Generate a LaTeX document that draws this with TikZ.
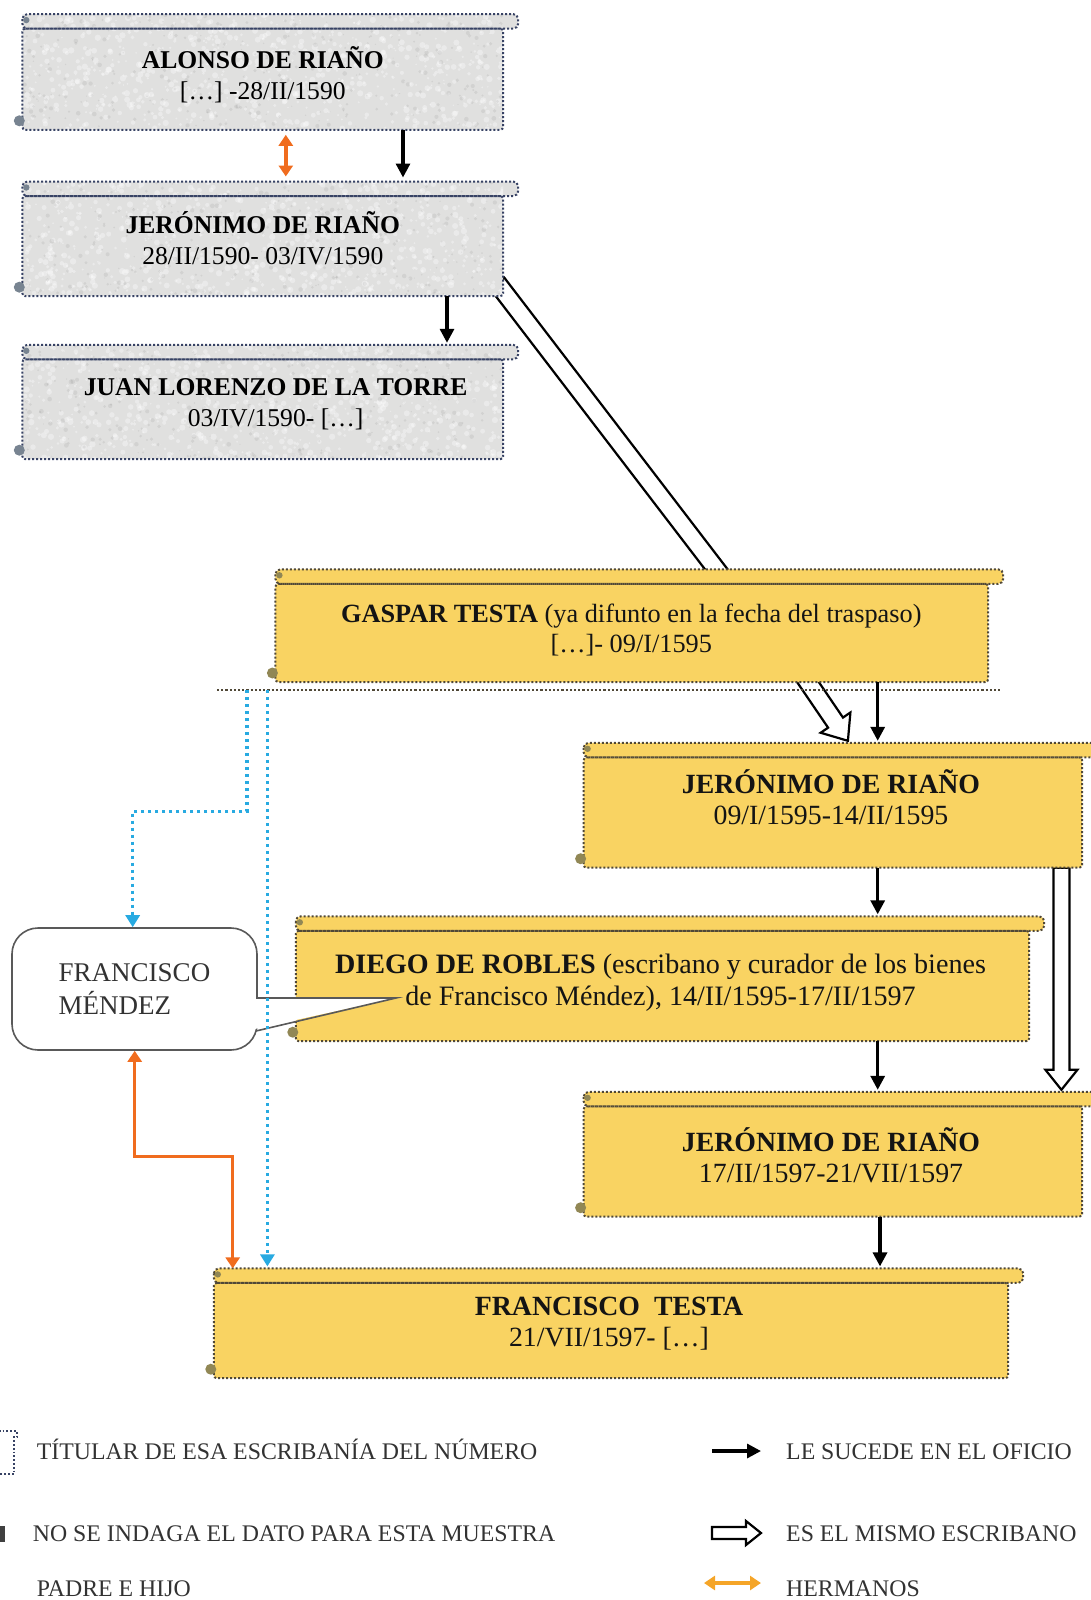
\documentclass[tikz,border=0pt]{standalone}
\usepackage{fontspec}
\setmainfont{Liberation Serif}
\usetikzlibrary{arrows.meta,calc}
\pgfdeclarelayer{deep}
\pgfdeclarelayer{background}
\pgfsetlayers{deep,background,main}
\definecolor{ygold}{RGB}{249,211,98}
\definecolor{ggray}{RGB}{224,224,223}
\definecolor{bslate}{RGB}{55,66,100}
\definecolor{bbrown}{RGB}{80,72,55}
\definecolor{blobg}{RGB}{120,132,145}
\definecolor{bloby}{RGB}{145,135,85}
\definecolor{orR}{RGB}{240,108,30}
\definecolor{orL}{RGB}{245,165,40}
\definecolor{cyanB}{RGB}{40,170,225}
\definecolor{txtg}{RGB}{50,50,50}

% #1 node, #2 fill, #3 border colour, #4 blob colour, #5 texture (1/0)
\newcommand\scrolldeco[5]{%
 \begin{pgfonlayer}{background}
  \fill[#2, rounded corners=3pt]
    ([yshift=-14.5pt]#1.north west) -- ([yshift=-14.5pt]#1.north east) -- (#1.south east) -- (#1.south west) -- cycle;
  \fill[#2, rounded corners=5pt]
    (#1.north west) rectangle ([xshift=15pt,yshift=-14.5pt]#1.north east);
  \ifnum#5=1
   \begin{scope}
    \clip (#1.north west) rectangle (#1.south east);
    \foreach \k in {1,...,900}{
      \fill[white, opacity=0.35] ($(#1.north west)+(rnd*500, rnd*118)$) circle[radius={0.8pt+rnd*2.4pt}];
    }
    \foreach \k in {1,...,350}{
      \fill[black, opacity=0.06] ($(#1.north west)+(rnd*500, rnd*118)$) circle[radius={0.6pt+rnd*1.8pt}];
    }
   \end{scope}
  \fi
  \draw[#3, dotted, line width=2pt, rounded corners=3pt]
    ([yshift=-14.5pt]#1.north west) -- ([yshift=-14.5pt]#1.north east) -- (#1.south east) -- (#1.south west) -- cycle;
  \draw[#3, dotted, line width=2pt, rounded corners=5pt]
    (#1.north west) rectangle ([xshift=15pt,yshift=-14.5pt]#1.north east);
  \fill[#4] ([xshift=4pt,yshift=-6pt]#1.north west) circle (3.2pt);
  \fill[#4] ([xshift=-3pt,yshift=9pt]#1.south west) circle (5.5pt);
 \end{pgfonlayer}}

% #1 start, #2 tip, #3 half shaft, #4 half head, #5 head length
\newcommand\hollowarrow[5]{%
  \coordinate (HAc) at ($(#2)!#5!(#1)$);
  \draw[line width=2.2pt, fill=white, line join=miter]
    ($(#1)!#3!90:(#2)$) -- ($(HAc)!#3!90:(#2)$) -- ($(HAc)!#4!90:(#2)$) -- (#2)
    -- ($(HAc)!#4!-90:(#2)$) -- ($(HAc)!#3!-90:(#2)$) -- ($(#1)!#3!-90:(#2)$) -- cycle;}

\tikzset{
  scrollnode/.style={inner sep=0pt},
  stxtA/.style={inner sep=0pt, align=center, text=black, font=\fontsize{25.6}{31}\selectfont},
  stxtB/.style={inner sep=0pt, align=center, text=black!92, font=\fontsize{26.3}{30}\selectfont},
  stxtC/.style={inner sep=0pt, align=center, text=black!92, font=\fontsize{27.8}{31.5}\selectfont},
  succ/.style={-{Triangle[length=14pt,width=14pt]}, line width=3.2pt, black},
  herm/.style={{Triangle[length=11pt,width=14pt]}-{Triangle[length=11pt,width=14pt]}, line width=3.4pt, orR},
  bluearr/.style={dash pattern=on 3.4pt off 3.6pt, line width=3.4pt, cyanB, -{Triangle[length=12pt,width=14pt]}},
  legtext/.style={inner sep=0pt, text height=0.66em, text depth=0pt, font=\fontsize{23.8}{28}\selectfont, text=txtg},
}

\begin{document}
\begin{tikzpicture}[x=1pt,y=-1pt]
\useasboundingbox (0,0) rectangle (1091,1600);
\pgfmathsetseed{11}

% ---------- scroll boxes ----------
\node[scrollnode, minimum width=480.5pt, minimum height=115.3pt] (n1) at (262.75,71.95) {};
\scrolldeco{n1}{ggray}{bslate}{blobg}{1}
\node[stxtA] (n1t) at (262.8,74.5) {\textbf{ALONSO DE RIAÑO}\\{}[…] -28/II/1590};

\node[scrollnode, minimum width=480.5pt, minimum height=114.3pt] (n2) at (262.75,238.85) {};
\scrolldeco{n2}{ggray}{bslate}{blobg}{1}
\node[stxtA] (n2t) at (262.8,238.3) {\textbf{JERÓNIMO DE RIAÑO}\\28/II/1590- 03/IV/1590};

\node[scrollnode, minimum width=480.5pt, minimum height=114pt] (n3) at (262.75,402) {};
\scrolldeco{n3}{ggray}{bslate}{blobg}{1}
\node[stxtA] (n3t) at (275.6,404.5) {\textbf{JUAN LORENZO DE LA TORRE}\\03/IV/1590- […]};

\node[scrollnode, minimum width=712.4pt, minimum height=112.3pt] (gt) at (631.8,625.65) {};
\scrolldeco{gt}{ygold}{bbrown}{bloby}{0}
\node[stxtB] (gtt) at (631.3,629.7) {\textbf{GASPAR TESTA} (ya difunto en la fecha del traspaso)\\{}[…]- 09/I/1595};

\node[scrollnode, minimum width=498.2pt, minimum height=124.5pt] (j2) at (832.9,805.25) {};
\scrolldeco{j2}{ygold}{bbrown}{bloby}{0}
\node[stxtC] (j2t) at (831,797) {\textbf{JERÓNIMO DE RIAÑO}\\09/I/1595-14/II/1595};

\node[scrollnode, minimum width=733pt, minimum height=124.5pt] (dr) at (662.5,978.75) {};
\scrolldeco{dr}{ygold}{bbrown}{bloby}{0}
\node[stxtC, font=\fontsize{28.1}{31.8}\selectfont] (drt) at (660.5,983) {\textbf{DIEGO DE ROBLES} (escribano y curador de los bienes\\de Francisco Méndez), 14/II/1595-17/II/1597};

\node[scrollnode, minimum width=498.2pt, minimum height=124.5pt] (j3) at (832.9,1154.25) {};
\scrolldeco{j3}{ygold}{bbrown}{bloby}{0}
\node[stxtC] (j3t) at (831,1155.3) {\textbf{JERÓNIMO DE RIAÑO}\\17/II/1597-21/VII/1597};

\node[scrollnode, minimum width=794pt, minimum height=109.4pt] (ft) at (611,1323.3) {};
\scrolldeco{ft}{ygold}{bbrown}{bloby}{0}
\node[stxtC] (ftt) at (609,1323.8) {\textbf{FRANCISCO\ \ TESTA}\\21/VII/1597- […]};

% ---------- hollow arrows (behind boxes) ----------
\coordinate (h1a) at ([xshift=-6pt,yshift=13pt]n2.south east);
\coordinate (h1b) at ([xshift=120pt,yshift=10pt]gt.center);
\coordinate (h3a) at ([xshift=172pt,yshift=6pt]gt.south);
\coordinate (h3b) at ([xshift=15pt,yshift=2pt]j2.north);
\coordinate (hx) at (1061.4,0);
\coordinate (h2a) at (j2.south -| hx);
\coordinate (h2b) at ([yshift=2pt]j3.north -| hx);
\begin{pgfonlayer}{deep}
  \hollowarrow{h1a}{h1b}{9pt}{17pt}{22pt}
  \hollowarrow{h3a}{h3b}{9pt}{18pt}{22pt}
  \hollowarrow{h2a}{h2b}{8pt}{16pt}{20pt}
\end{pgfonlayer}

% ---------- dotted line under Gaspar ----------
\coordinate (gl) at (217,690);
\coordinate (gr) at (1000,690);
\draw[bbrown, dotted, line width=2.2pt] (gl) -- (gr);

% ---------- succession arrows ----------
\coordinate (sx1) at (403,0);
\coordinate (sx2) at (447,0);
\coordinate (sx3) at (877.7,0);
\coordinate (sx4) at (880,0);
\draw[succ, shorten >=4pt] (n1.south -| sx1) -- (n2.north -| sx1);
\draw[succ, shorten >=2pt] (n2.south -| sx2) -- (n3.north -| sx2);
\draw[succ, shorten >=2pt] (gt.south -| sx3) -- (j2.north -| sx3);
\draw[succ, shorten >=2pt] (j2.south -| sx3) -- (dr.north -| sx3);
\draw[succ, shorten >=2pt] (dr.south -| sx3) -- (j3.north -| sx3);
\draw[succ, shorten >=2pt] (j3.south -| sx4) -- (ft.north -| sx4);

% ---------- brothers ----------
\coordinate (ox1) at (285.8,0);
\draw[herm, shorten >=5pt, shorten <=5pt] (n1.south -| ox1) -- (n2.north -| ox1);

% ---------- callout ----------
\node[draw=black!65, line width=1.6pt, rounded corners=26pt, fill=white,
      minimum width=245pt, minimum height=122pt, inner sep=0pt, align=left,
      font=\fontsize{27}{32.5}\selectfont, text=txtg] (cm) at (134.5,989)
  {FRANCISCO\\MÉNDEZ};
\coordinate (ptip) at (396,998);
\coordinate (pu) at (257,998);
\coordinate (pl) at (256,1031);
\fill[white] (250,999.2) -- (ptip) -- (250,1030) -- cycle;
\draw[black!65, line width=1.6pt, line join=miter] (cm.east |- pu) -- (ptip) -- (pl);

\coordinate (ob1) at (232.7,1156.3);
\coordinate (ob2) at (134.7,1156.3);
\draw[herm] (ft.north -| ob1) -- (ob1) -- (ob2) -- (cm.south -| ob2);

% ---------- blue dotted ----------
\coordinate (ba1) at (247,690);
\coordinate (ba2) at (247,811.4);
\coordinate (ba3) at (132.7,811.4);
\draw[bluearr] (ba1) -- (ba2) -- (ba3) -- (cm.north -| ba3);
\coordinate (bb1) at (267.4,690);
\draw[bluearr, shorten >=2pt] (bb1) -- (ft.north -| bb1);

% ---------- legend ----------
\draw[bslate, dotted, line width=1.8pt] (-5,1431) -- (17,1431) -- (17,1437) -- (14,1437) -- (14,1474) -- (-5,1474);
\fill[black!75] (0,1526) rectangle (5,1542);
\node[legtext, anchor=west] (l1) at (36.7,1456) {TÍTULAR DE ESA ESCRIBANÍA DEL NÚMERO};
\node[legtext, anchor=west] (l2) at (32.7,1538) {NO SE INDAGA EL DATO PARA ESTA MUESTRA};
\node[legtext, anchor=west] (l3) at (36.7,1593) {PADRE E HIJO};
\node[legtext, anchor=west] (l4) at (786,1456) {LE SUCEDE EN EL OFICIO};
\node[legtext, anchor=west] (l5) at (786,1538) {ES EL MISMO ESCRIBANO};
\node[legtext, anchor=west] (l6) at (786,1593) {HERMANOS};
\coordinate (la1) at (712,1451);
\coordinate (la2) at (761,1451);
\draw[succ] (la1) -- (la2);
\coordinate (lh1) at (712,1533);
\coordinate (lh2) at (761,1533);
\hollowarrow{lh1}{lh2}{6pt}{12pt}{15pt}
\coordinate (lo1) at (704,1583);
\coordinate (lo2) at (761,1583);
\draw[{Triangle[length=11pt,width=14pt]}-{Triangle[length=11pt,width=14pt]}, line width=3.6pt, orL] (lo1) -- (lo2);
\end{tikzpicture}
\end{document}
